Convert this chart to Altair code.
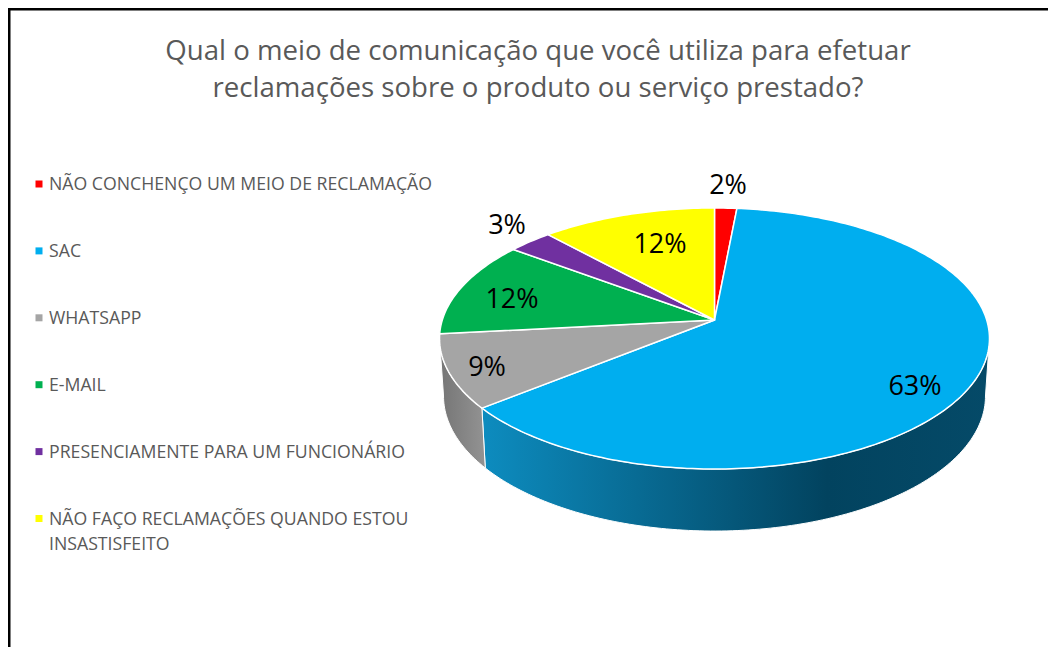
import math
import altair as alt
import pandas as pd

# ---- chart values -------------------------------------------------------
categories = ["NÃO CONCHENÇO UM MEIO DE RECLAMAÇÃO", "SAC", "WHATSAPP", "E-MAIL",
              "PRESENCIAMENTE PARA UM FUNCIONÁRIO",
              "NÃO FAÇO RECLAMAÇÕES QUANDO ESTOU\nINSASTISFEITO"]
shares = [1.5, 62.7, 9.1, 11.9, 3.0, 11.9]
labels = ["2%", "63%", "9%", "12%", "3%", "12%"]
colors = ["#ff0000", "#00aeef", "#a5a5a5", "#00b050", "#7030a0", "#ffff00"]
label_x = [728, 915, 487, 512, 507, 660]
label_y = [186, 387, 368, 300, 226, 245]
title_lines = ["Qual o meio de comunicação que você utiliza para efetuar",
               "reclamações sobre o produto ou serviço prestado?"]

# ---- layout, in pixels of the picture ------------------------------------
W, H = 1040, 639
AX, AY = 714.5, 320.0     # apex of the tilted pie
K = 0.1418                # perspective of the tilt
RX, RY = 272.2, 127.9
ECX, ECY, ERX, ERY = 714.5, 338.5, 275.0, 130.5   # top outline
BCY, BRX, BRY = 396.0, 271.0, 135.0               # bottom outline of the wall
xs = alt.Scale(domain=[8, 8 + W], range=[0, W], nice=False, zero=False)
ys = alt.Scale(domain=[8, 8 + H], range=[0, H], nice=False, zero=False)
X = lambda f: alt.X(f, type="quantitative", scale=xs, axis=None)
Y = lambda f: alt.Y(f, type="quantitative", scale=ys, axis=None)


def top(deg):
    t = math.radians(deg)
    w = 1 + K * math.cos(t)
    return AX + RX * math.sin(t) / w, AY - RY * math.cos(t) / w


def bottom(deg):
    x, y = top(deg)
    return ECX + (x - ECX) * BRX / ERX, BCY + (y - ECY) * BRY / ERY


def sweep(a, b, step=1.0):
    n = max(2, int(abs(b - a) / step) + 1)
    return [a + (b - a) * i / (n - 1) for i in range(n)]


def polygon(mark_fill, points, stroke="white", sw=1.5):
    df = pd.DataFrame({"x": [p[0] for p in points], "y": [p[1] for p in points],
                       "i": range(len(points))})
    return alt.Chart(df).mark_line(interpolate="linear-closed", fill=mark_fill,
                                   stroke=stroke, strokeWidth=sw, strokeJoin="round").encode(
        x=X("x"), y=Y("y"), order=alt.Order("i:Q"))


layers = []

# frame
frame = pd.DataFrame({"x": [8, 8], "x2": [10.5, 8 + W], "y": [8, 8], "y2": [8 + H, 10.5]})
layers.append(alt.Chart(frame).mark_rect(color="black").encode(
    x=X("x"), x2="x2", y=Y("y"), y2="y2"))

# slice boundaries, clockwise from twelve o'clock
edges = [0.0]
for s in shares:
    edges.append(edges[-1] + s * 3.6)
edges[-1] = 360.0
side = math.degrees(math.acos(-K))      # where the outline is widest

# walls
blue_a, blue_b = side, edges[2]
blue_wall = [top(d) for d in sweep(blue_a, blue_b)] + [bottom(d) for d in sweep(blue_b, blue_a)]
blue_grad = alt.Gradient(gradient="linear", x1=0, x2=1, y1=0, y2=0, stops=[
    alt.GradientStop(color="#0d8cbf", offset=0),
    alt.GradientStop(color="#02435f", offset=0.68),
    alt.GradientStop(color="#054a68", offset=1)])
layers.append(polygon(blue_grad, blue_wall, sw=1))

gray_a, gray_b = edges[2], 360 - side
gray_wall = [top(d) for d in sweep(gray_a, gray_b)] + [bottom(d) for d in sweep(gray_b, gray_a)]
gray_grad = alt.Gradient(gradient="linear", x1=0, x2=1, y1=0, y2=0, stops=[
    alt.GradientStop(color="#757575", offset=0),
    alt.GradientStop(color="#939393", offset=1)])
layers.append(polygon(gray_grad, gray_wall, sw=1))

# top of the pie
for i, c in enumerate(colors):
    pts = [(AX, AY)] + [top(d) for d in sweep(edges[i], edges[i + 1])]
    layers.append(polygon(c, pts))

# data labels
lab = pd.DataFrame({"x": label_x, "y": label_y, "t": labels})
layers.append(alt.Chart(lab).mark_text(font="Open Sans", fontSize=27, color="#000000").encode(
    x=X("x"), y=Y("y"), text="t:N"))

# title
tt = pd.DataFrame({"x": [538, 538], "y": [51.5, 88.5], "t": title_lines})
layers.append(alt.Chart(tt).mark_text(font="Open Sans", fontSize=27.6, color="#595959").encode(
    x=X("x"), y=Y("y"), text="t:N"))

# legend
leg_rows, leg_marks = [], []
for i, (name, c) in enumerate(zip(categories, colors)):
    y0 = 184 + i * 66.9
    leg_marks.append({"x": 39, "y": y0, "c": c, "k": str(i)})
    for j, line in enumerate(name.split("\n")):
        leg_rows.append({"x": 49, "y": y0 + 1 + j * 25, "t": line})
layers.append(alt.Chart(pd.DataFrame(leg_marks)).mark_square(size=49, opacity=1).encode(
    x=X("x"), y=Y("y"), color=alt.Color("c:N", scale=None)))
layers.append(alt.Chart(pd.DataFrame(leg_rows)).mark_text(
    font="Open Sans", fontSize=17.7, color="#595959", align="left").encode(
    x=X("x"), y=Y("y"), text="t:N"))

chart = alt.layer(*layers).properties(
    width=W, height=H, padding=0, background="white",
    autosize=alt.AutoSizeParams(type="none")
).configure_view(stroke=None)

chart.save("out.html", embed_options={"renderer": "svg", "actions": False})
